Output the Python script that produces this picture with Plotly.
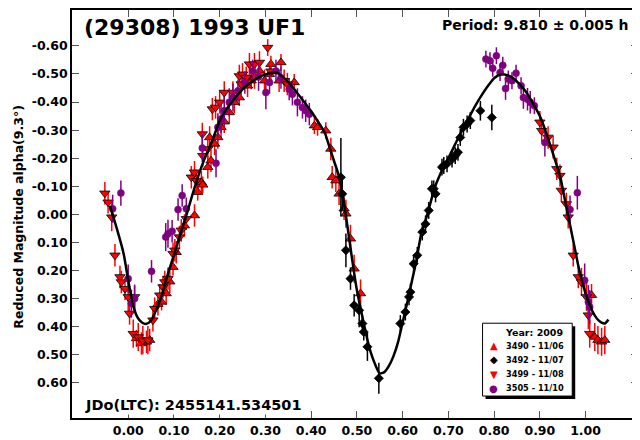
import plotly.graph_objects as go

# ---------------- data ----------------
# Session 3490 - 11/06 (red up-triangles)
p3490 = [0.018,0.029,0.040,0.047,0.065,0.073,0.083,0.091,0.098,0.105,0.123,0.145,0.152,0.160,0.163,0.174,0.178,0.181,0.189,0.196,
         0.203,0.210,0.221,0.232,0.243,0.261,0.269,0.276,0.287,0.298,0.309,0.312,0.330,0.334,0.363,0.407,0.414,0.432,0.443,0.446,
         0.454,0.461,0.472,0.476,0.486,0.494,0.508,1.013,1.020,1.027,1.035,1.042]
m3490 = [0.442,0.460,0.454,0.448,0.320,0.312,0.282,0.240,0.188,0.135,0.040,0.004,-0.079,-0.114,-0.105,-0.168,-0.274,-0.191,-0.251,-0.274,
         -0.310,-0.330,-0.363,-0.399,-0.416,-0.458,-0.476,-0.487,-0.511,-0.476,-0.499,-0.535,-0.476,-0.541,-0.470,-0.316,-0.310,-0.298,-0.233,-0.132,
         -0.120,-0.073,-0.020,-0.002,0.087,0.194,0.282,0.288,0.437,0.448,0.454,0.448]
e3490 = [0.03,0.04,0.04,0.04,0.04,0.03,0.04,0.04,0.03,0.04,0.04,0.04,0.03,0.04,0.03,0.04,0.04,0.04,0.04,0.04,
         0.04,0.04,0.04,0.04,0.03,0.04,0.03,0.04,0.03,0.04,0.03,0.03,0.04,0.03,0.03,0.03,0.03,0.03,0.04,0.04,
         0.04,0.04,0.04,0.05,0.05,0.05,0.05,0.04,0.05,0.05,0.05,0.05]

# Session 3492 - 11/07 (black diamonds)
p3492 = [0.465,0.468,0.476,0.486,0.494,0.505,0.512,0.515,0.523,0.548,0.595,0.606,0.614,0.617,0.624,0.632,0.643,0.650,0.657,0.664,
         0.668,0.672,0.686,0.690,0.697,0.708,0.715,0.721,0.726,0.733,0.741,0.748,0.770,0.795]
m3492 = [-0.132,-0.073,0.128,0.229,0.324,0.342,0.389,0.419,0.472,0.584,0.389,0.348,0.294,0.277,0.176,0.146,0.063,0.034,-0.014,-0.091,
         -0.091,-0.073,-0.168,-0.174,-0.180,-0.197,-0.209,-0.221,-0.274,-0.310,-0.322,-0.334,-0.369,-0.345]
e3492 = [0.14,0.06,0.06,0.04,0.04,0.06,0.03,0.03,0.05,0.055,0.03,0.03,0.03,0.03,0.03,0.03,0.03,0.03,0.03,0.03,
         0.03,0.03,0.03,0.03,0.03,0.03,0.03,0.03,0.03,0.03,0.03,0.03,0.035,0.045]

# Session 3499 - 11/08 (red down-triangles)
p3499 = [-0.051,-0.044,-0.036,-0.029,-0.018,-0.015,-0.007,0.000,0.003,0.011,0.014,0.022,0.032,0.043,0.054,0.058,0.069,0.076,0.080,0.087,
         0.098,0.102,0.112,0.116,0.127,0.138,0.145,0.149,0.162,0.163,0.174,0.184,0.191,0.200,0.210,0.229,0.243,0.247,0.250,0.258,
         0.265,0.276,0.287,0.305,0.312,0.341,0.348,0.900,0.904,0.918,0.929,0.937,0.944,0.947,0.958,0.962,0.973,0.984,0.991,1.002,
         1.006,1.009]
m3499 = [-0.075,-0.043,0.010,0.146,0.223,0.241,0.265,0.294,0.353,0.425,0.294,0.437,0.448,0.448,0.377,0.336,0.288,0.259,0.241,0.229,
         0.140,0.128,0.081,0.057,0.016,-0.132,-0.150,-0.120,-0.286,-0.209,-0.233,-0.375,-0.381,-0.399,-0.434,-0.434,-0.493,-0.464,-0.499,-0.487,
         -0.535,-0.535,-0.541,-0.594,-0.510,-0.476,-0.464,-0.328,-0.298,-0.274,-0.239,-0.162,-0.138,-0.085,-0.037,0.010,0.146,0.223,0.241,0.294,
         0.359,0.425]
e3499 = [0.04,0.04,0.05,0.04,0.04,0.04,0.04,0.05,0.04,0.05,0.04,0.05,0.05,0.05,0.04,0.04,0.04,0.04,0.04,0.04,
         0.04,0.04,0.04,0.04,0.04,0.04,0.04,0.04,0.04,0.04,0.04,0.04,0.04,0.04,0.04,0.04,0.04,0.04,0.04,0.04,
         0.04,0.04,0.04,0.03,0.04,0.04,0.04,0.04,0.04,0.04,0.04,0.04,0.04,0.04,0.04,0.04,0.04,0.04,0.05,0.05,
         0.05,0.05]

# Session 3505 - 11/10 (purple circles)
p3505 = [-0.034,-0.016,0.000,0.007,0.014,0.051,0.082,0.087,0.096,0.109,0.118,0.127,0.162,0.192,0.196,0.203,0.210,0.221,0.229,0.240,
         0.255,0.272,0.285,0.301,0.309,0.323,0.334,0.352,0.359,0.370,0.381,0.388,0.396,0.782,0.791,0.797,0.805,0.813,0.819,0.825,
         0.831,0.839,0.848,0.859,0.864,0.873,0.879,0.888,0.911,0.966,0.982,0.998,1.006,1.009]
m3505 = [-0.020,-0.076,0.229,0.318,0.300,0.203,0.081,0.069,0.060,-0.017,-0.067,-0.020,-0.236,-0.182,-0.310,-0.340,-0.369,-0.399,-0.416,-0.440,
         -0.470,-0.511,-0.490,-0.434,-0.470,-0.511,-0.487,-0.446,-0.428,-0.399,-0.381,-0.369,-0.357,-0.553,-0.547,-0.520,-0.565,-0.505,-0.531,-0.448,
         -0.482,-0.476,-0.503,-0.458,-0.416,-0.410,-0.399,-0.387,-0.256,-0.017,-0.077,0.235,0.312,0.330]
e3505 = [0.05,0.045,0.05,0.05,0.05,0.04,0.05,0.05,0.04,0.04,0.04,0.04,0.05,0.05,0.05,0.05,0.05,0.05,0.05,0.04,
         0.04,0.04,0.05,0.06,0.04,0.04,0.04,0.04,0.04,0.05,0.04,0.04,0.04,0.03,0.03,0.03,0.03,0.03,0.03,0.04,
         0.03,0.03,0.03,0.03,0.04,0.04,0.04,0.03,0.05,0.05,0.06,0.06,0.06,0.06]

# Session start markers (open symbols)
sq_red_p, sq_red_m = [0.312, 0.508], [-0.576, 0.282]
ci_red_p, ci_red_m = [-0.011, 0.900], [0.265, -0.328]
sq_pur_p, sq_pur_m = [0.392], [-0.363]
ci_pur_p, ci_pur_m = [0.782], [-0.553]
ci_blk_p, ci_blk_m = [0.465], [-0.132]
sq_blk_p, sq_blk_m = [0.795], [-0.345]

# Fourier fit curve
curve_p = [-0.040,-0.025,-0.010,0.000,0.010,0.020,0.030,0.040,0.050,0.060,0.070,0.080,0.090,0.100,0.110,0.120,0.130,0.140,0.150,0.160,
           0.170,0.180,0.190,0.200,0.215,0.230,0.250,0.270,0.290,0.310,0.325,0.340,0.360,0.380,0.400,0.415,0.430,0.440,0.450,0.460,
           0.470,0.480,0.490,0.500,0.510,0.520,0.530,0.540,0.550,0.560,0.570,0.580,0.590,0.600,0.610,0.620,0.630,0.640,0.650,0.660,
           0.670,0.680,0.690,0.700,0.715,0.730,0.745,0.760,0.775,0.790,0.800,0.815,0.830,0.840,0.855,0.870,0.885,0.900,0.915,0.930,
           0.945,0.955,0.965,0.975,0.985,0.995,1.005,1.015,1.025,1.035,1.042,1.050]
curve_m = [-0.030,0.050,0.140,0.235,0.320,0.366,0.385,0.390,0.378,0.345,0.305,0.250,0.195,0.145,0.092,0.040,-0.012,-0.068,-0.120,-0.168,
           -0.210,-0.248,-0.290,-0.334,-0.375,-0.408,-0.445,-0.472,-0.492,-0.503,-0.505,-0.487,-0.452,-0.410,-0.367,-0.330,-0.290,-0.240,-0.190,-0.140,
           -0.060,0.050,0.165,0.270,0.350,0.426,0.490,0.535,0.567,0.562,0.540,0.505,0.455,0.385,0.315,0.240,0.165,0.075,0.022,-0.035,
           -0.095,-0.135,-0.170,-0.200,-0.250,-0.300,-0.345,-0.390,-0.430,-0.465,-0.485,-0.499,-0.495,-0.487,-0.465,-0.436,-0.395,-0.350,-0.285,-0.210,
           -0.130,-0.050,0.030,0.110,0.190,0.255,0.305,0.345,0.372,0.386,0.389,0.375]

y_ticks = [-0.60,-0.50,-0.40,-0.30,-0.20,-0.10,0.00,0.10,0.20,0.30,0.40,0.50,0.60]
x_ticks = [0.00,0.10,0.20,0.30,0.40,0.50,0.60,0.70,0.80,0.90,1.00]

legend_year = "Year: 2009"
legend_names = ["3490 - 11/06", "3492 - 11/07", "3499 - 11/08", "3505 - 11/10"]
legend_glyphs = ["▲", "◆", "▼", "●"]

# ---------------- figure ----------------
OFF = 8                      # page body margin of the browser
W, H = 640 - OFF, 440 - OFF
L, R, T, B = 72 - OFF, 0, 9 - OFF, 22
PW, PH = W - L - R, H - T - B
FONT = "DejaVu Sans"

def px(xp):       # page pixel x -> paper
    return (xp - OFF - L) / PW

def py(yp):       # page pixel y -> paper
    return (H - B - (yp - OFF)) / PH

RED, PUR = "#FF0000", "#800080"
COLORS = [RED, "black", RED, PUR]
fig = go.Figure()

def add_series(p, m, e, name, sym, size, color, lcol="black", lw=0.8):
    fig.add_trace(go.Scatter(
        x=p, y=m, mode="markers", name=name, showlegend=False,
        marker=dict(symbol=sym, size=size, color=color, line=dict(color=lcol, width=lw)),
        error_y=dict(type="data", array=e, color=color, thickness=1.5, width=0)))

add_series(p3490, m3490, e3490, legend_names[0], "triangle-up", 9, RED)
add_series(p3492, m3492, e3492, legend_names[1], "diamond", 7, "black")
add_series(p3499, m3499, e3499, legend_names[2], "triangle-down", 9, RED)
add_series(p3505, m3505, e3505, legend_names[3], "circle", 7, PUR, lcol=PUR, lw=0.5)

def add_open(p, m, sym, color):
    fig.add_trace(go.Scatter(x=p, y=m, mode="markers", showlegend=False, hoverinfo="skip",
                             marker=dict(symbol=sym, size=14, color="rgba(0,0,0,0)",
                                         line=dict(color=color, width=1.5))))

add_open(sq_red_p, sq_red_m, "square-open", RED)
add_open(ci_red_p, ci_red_m, "circle-open", RED)
add_open(sq_pur_p, sq_pur_m, "square-open", PUR)
add_open(ci_pur_p, ci_pur_m, "circle-open", PUR)
add_open(ci_blk_p, ci_blk_m, "circle-open", "black")
add_open(sq_blk_p, sq_blk_m, "square-open", "black")

fig.add_trace(go.Scatter(x=curve_p, y=curve_m, mode="lines", showlegend=False, hoverinfo="skip",
                         line=dict(color="black", width=2.5, shape="spline", smoothing=0.6)))

x0 = 0.0 - (128.4 - 72) / 459.0
x1 = 0.0 + (640 - 128.4) / 459.0
y_top = -0.60 - (45.0 - 9) / 281.4
y_bot = 0.60 + (418 - 382.7) / 281.4

tickfont = dict(family=FONT, size=12.5, color="black", weight="bold")
fig.update_xaxes(range=[x0, x1], tickvals=x_ticks, ticktext=["%.2f" % v for v in x_ticks],
                 ticks="inside", ticklen=7, tickwidth=1, tickcolor="#555",
                 showline=True, linecolor="black", linewidth=1.5, mirror="ticks",
                 showgrid=False, zeroline=False, tickfont=tickfont)
fig.update_yaxes(range=[y_bot, y_top], tickvals=y_ticks, ticktext=[("%.2f" % v) for v in y_ticks],
                 ticks="inside", ticklen=7, tickwidth=1, tickcolor="#555",
                 showline=True, linecolor="black", linewidth=1.5, mirror="ticks",
                 showgrid=False, zeroline=False, tickfont=tickfont)

bold = lambda s: dict(family=FONT, size=s, color="black", weight="bold")
ann = [
    dict(text="(29308) 1993 UF1", x=px(82), y=py(26.5), xanchor="left", yanchor="middle", font=bold(22)),
    dict(text="Period: 9.810 ± 0.005 h", x=px(632), y=py(24.5), xanchor="right", yanchor="middle", font=bold(14)),
    dict(text="JDo(LTC): 2455141.534501", x=px(83), y=py(404.5), xanchor="left", yanchor="middle",
         bgcolor="white", font=bold(14.5)),
    dict(text="Reduced Magnitude alpha(9.3°)", x=px(18), y=py(216), xanchor="center", yanchor="middle",
         textangle=-90, font=bold(12.5)),
    dict(text=legend_year, x=px(536), y=py(332), xanchor="center", yanchor="middle", font=bold(9.5)),
]
for i, (g, n, c) in enumerate(zip(legend_glyphs, legend_names, COLORS)):
    yy = 345.5 + i * 14.3
    ann.append(dict(text=g, x=px(495), y=py(yy), xanchor="center", yanchor="middle",
                    font=dict(family=FONT, size=10, color=c)))
    ann.append(dict(text=n, x=px(506), y=py(yy), xanchor="left", yanchor="middle", font=bold(8.2)))
for a in ann:
    a.update(xref="paper", yref="paper", showarrow=False)

shapes = [
    dict(type="rect", xref="paper", yref="paper", x0=px(487), x1=px(577), y0=py(399), y1=py(326),
         fillcolor="black", line=dict(width=0), layer="above"),
    dict(type="rect", xref="paper", yref="paper", x0=px(484), x1=px(574), y0=py(396), y1=py(323),
         fillcolor="white", line=dict(color="black", width=1), layer="above"),
]

fig.update_layout(
    width=W, height=H, margin=dict(l=L, r=R, t=T, b=B, pad=0),
    paper_bgcolor="white", plot_bgcolor="white",
    annotations=ann, shapes=shapes, showlegend=False,
)

fig.write_html("out.html")
